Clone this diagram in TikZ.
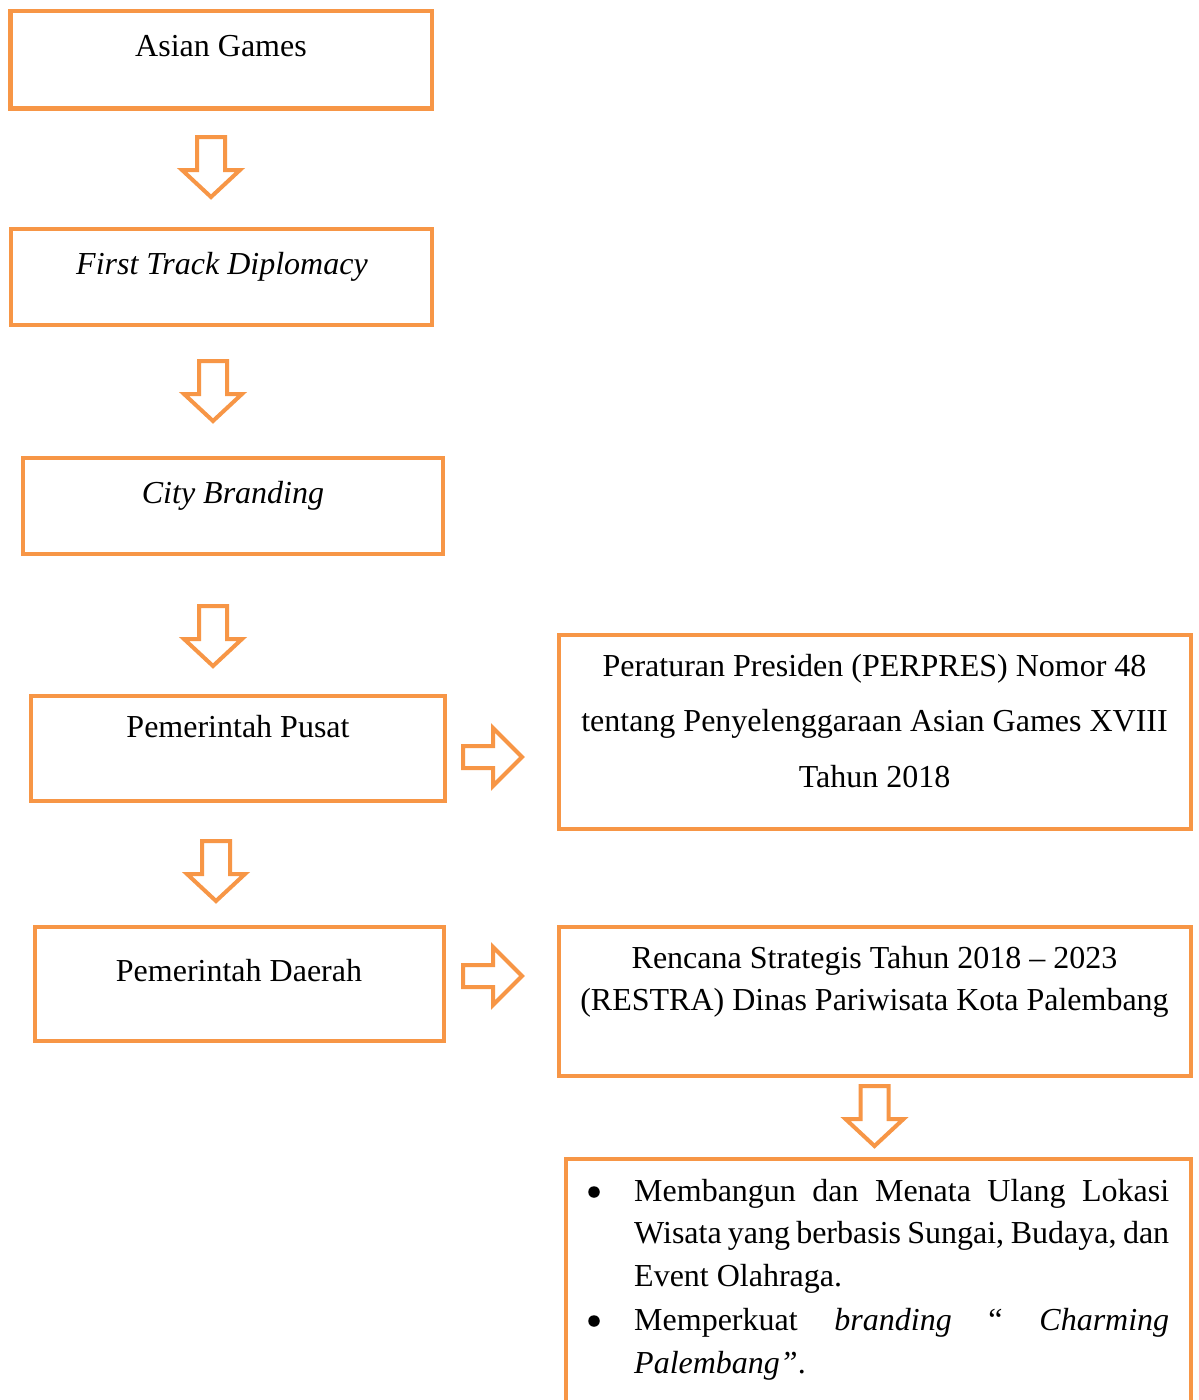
\documentclass[tikz,border=0pt]{standalone}
\usepackage{fontspec}
\setmainfont{Liberation Serif}
\usetikzlibrary{fit}
\definecolor{org}{HTML}{F79646}
\newcommand\DnArr[3]{% name, cx, top
  \draw[arr] (#2-14,#3) coordinate (#1) -- (#2+14,#3) -- (#2+14,#3+33) -- (#2+29,#3+33) -- (#2,#3+60) -- (#2-29,#3+33) -- (#2-14,#3+33) -- cycle;}
\newcommand\RtArr[3]{% name, left, cy
  \draw[arr] (#2,#3-11) coordinate (#1) -- (#2+30,#3-11) -- (#2+30,#3-29) -- (#2+59,#3) -- (#2+30,#3+29) -- (#2+30,#3+11) -- (#2,#3+11) -- cycle;}
\begin{document}
\begin{tikzpicture}[x=1pt,y=-1pt,
  box/.style={draw=org,line width=4.5pt,line join=miter,inner sep=0pt},
  txt/.style={anchor=base,inner sep=0pt,font=\fontsize{32}{38}\selectfont},
  bul/.style={circle,fill=black,inner sep=0pt,minimum size=11.5pt},
  arr/.style={draw=org,line width=4pt,line join=miter,fill=white}]
\useasboundingbox[fill=white] (0,0) rectangle (1199,1400);
% boxes
\node[box,fit={(10.5,11)(432,108.5)}] (b1) {};
\node[box,fit={(11,229)(432,325)}] (b2) {};
\node[box,fit={(23,458)(443,554)}] (b3) {};
\node[box,fit={(31,696)(445,801)}] (b4) {};
\node[box,fit={(35,927)(444,1041)}] (b5) {};
\node[box,fit={(559,635)(1191,829)}] (b6) {};
\node[box,fit={(559,927)(1191,1076)}] (b7) {};
\node[box,fit={(566,1159)(1191,1430)}] (b8) {};
% texts
\node[txt] (t1) at (221,56) {Asian Games};
\node[txt] (t2) at (222,274) {\textit{First Track Diplomacy}};
\node[txt] (t3) at (233,503) {\textit{City Branding}};
\node[txt] (t4) at (238,737) {Pemerintah Pusat};
\node[txt] (t5) at (239,981) {Pemerintah Daerah};
\node[txt] (t6a) at (874.5,676) {Peraturan Presiden (PERPRES) Nomor 48};
\node[txt] (t6b) at (874.5,731) {tentang Penyelenggaraan Asian Games XVIII};
\node[txt] (t6c) at (874.5,787) {Tahun 2018};
\node[txt] (t7a) at (874.5,968) {Rencana Strategis Tahun 2018 – 2023};
\node[txt] (t7b) at (874.5,1010) {(RESTRA) Dinas Pariwisata Kota Palembang};
% bullets
\node[bul] (bu1) at (594,1192) {};
\node[txt,anchor=base west] (l1) at (634,1201) {\makebox[535pt][s]{Membangun dan Menata Ulang Lokasi}};
\node[txt,anchor=base west] (l2) at (634,1243) {\makebox[535pt][s]{Wisata yang berbasis Sungai, Budaya, dan}};
\node[txt,anchor=base west] (l3) at (634,1286) {Event Olahraga.};
\node[bul] (bu2) at (594,1321) {};
\node[txt,anchor=base west] (l4) at (634,1330) {\makebox[535pt][s]{Memperkuat \textit{branding} “ \textit{Charming}}};
\node[txt,anchor=base west] (l5) at (634,1373) {\textit{Palembang”}.};
% block arrows
\DnArr{a1}{211}{137}
\DnArr{a2}{213}{361}
\DnArr{a3}{213}{606}
\DnArr{a4}{216}{841}
\DnArr{a5}{874.5}{1086}
\RtArr{r1}{463}{757}
\RtArr{r2}{463}{976}
\end{tikzpicture}
\end{document}
